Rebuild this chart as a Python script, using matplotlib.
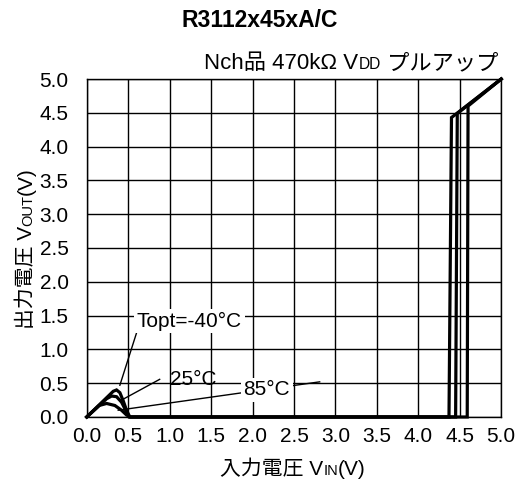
import numpy as np
import matplotlib.pyplot as plt

plt.rcParams['font.family'] = ['Liberation Sans', 'Noto Sans CJK JP', 'DejaVu Sans']

# Данные кривых (Vin, Vout) для трёх температур
vin_m40 = [0.0, 0.32, 0.36, 0.40, 0.44, 0.48, 0.52, 4.37, 4.40, 5.0]
vout_m40 = [0.0, 0.38, 0.40, 0.36, 0.24, 0.10, 0.0, 0.0, 4.43, 5.0]
vin_25 = [0.0, 0.24, 0.30, 0.36, 0.42, 0.47, 0.51, 4.45, 4.47, 5.0]
vout_25 = [0.0, 0.27, 0.31, 0.30, 0.22, 0.10, 0.0, 0.0, 4.49, 5.0]
vin_85 = [0.0, 0.15, 0.24, 0.34, 0.42, 0.48, 0.53, 4.59, 4.60, 5.0]
vout_85 = [0.0, 0.17, 0.20, 0.17, 0.10, 0.03, 0.0, 0.0, 4.60, 5.0]

ticks = np.arange(0, 5.01, 0.5)
tick_labels = [f"{t:.1f}" for t in ticks]

FS = 15

fig = plt.figure(figsize=(5.18, 4.95), dpi=100)
ax = fig.add_axes([0.1674, 0.1576, 0.8002, 0.6828])

for x, y in [(vin_m40, vout_m40), (vin_25, vout_25), (vin_85, vout_85)]:
    ax.plot(x, y, color='black', linewidth=2.3, solid_joinstyle='miter', zorder=3, clip_on=False)

ax.set_xlim(0, 5)
ax.set_ylim(0, 5)
ax.set_xticks(ticks)
ax.set_yticks(ticks)
ax.set_xticklabels(tick_labels)
ax.set_yticklabels(tick_labels)
ax.tick_params(length=0, labelsize=FS)
ax.tick_params(axis='x', pad=7)
ax.tick_params(axis='y', pad=13)
ax.grid(True, color='black', linewidth=1.0)
for s in ax.spines.values():
    s.set_linewidth(1.0)

# подписи температур
box = dict(facecolor='white', edgecolor='none', pad=2)
ax.plot([0.40, 0.60], [0.47, 1.24], color='black', linewidth=1.0, zorder=4)
ax.text(1.24, 1.42, "Topt=-40°C", fontsize=FS, ha='center', va='center', zorder=5, bbox=box)
ax.plot([0.42, 0.88], [0.25, 0.557], color='black', linewidth=1.0, zorder=4)
ax.text(1.29, 0.56, "25°C", fontsize=FS, ha='center', va='center', zorder=5)
ax.plot([0.38, 2.81], [0.10, 0.52], color='black', linewidth=1.0, zorder=4)
ax.text(2.17, 0.40, "85°C", fontsize=FS, ha='center', va='center', zorder=5, bbox=box)

fig.text(0.502, 0.958, "R3112x45xA/C", fontsize=16.5, fontweight='bold', ha='center', va='center')

# подзаголовок с малыми буквами
sb = 1 - 69 / 495
t1 = fig.text(200 / 518, sb, "Nch品 470kΩ V", fontsize=16, ha='left', va='baseline')
t2 = fig.text(0, sb, "DD", fontsize=16 * 0.7, ha='left', va='baseline')
t3 = fig.text(0, sb, " プルアップ", fontsize=16, ha='left', va='baseline')

# подпись оси X
xb = 1 - 475 / 495
x1 = fig.text(232 / 518, xb, "入力電圧 V", fontsize=FS, ha='left', va='baseline')
x2 = fig.text(0, xb, "IN", fontsize=FS * 0.7, ha='left', va='baseline')
x3 = fig.text(0, xb, "(V)", fontsize=FS, ha='left', va='baseline')

# подпись оси Y
yb = 32 / 518
y1 = fig.text(yb, 155 / 495, "出力電圧 V", fontsize=FS, rotation=90, rotation_mode='anchor',
              ha='left', va='baseline')
y2 = fig.text(yb, 0, "OUT", fontsize=FS * 0.7, rotation=90, rotation_mode='anchor', ha='left', va='baseline')
y3 = fig.text(yb, 0, "(V)", fontsize=FS, rotation=90, rotation_mode='anchor', ha='left', va='baseline')

# расстановка кусочков подписей по их реальным размерам
fig.canvas.draw()
r = fig.canvas.get_renderer()
inv = fig.transFigure.inverted()


def chain_x(parts):
    for a, b in zip(parts[:-1], parts[1:]):
        e = a.get_window_extent(r)
        b.set_x(inv.transform((e.x1, 0))[0])


def chain_y(parts):
    for a, b in zip(parts[:-1], parts[1:]):
        e = a.get_window_extent(r)
        b.set_y(inv.transform((0, e.y1))[1])


chain_x([x1, x2, x3])
e1 = x1.get_window_extent(r)
e3 = x3.get_window_extent(r)
shift = (293 - (e1.x0 + e3.x1) / 2) / 518
for t in (x1, x2, x3):
    t.set_x(t.get_position()[0] + shift)

chain_y([y1, y2, y3])
fig.canvas.draw()
e1 = y1.get_window_extent(r)
e3 = y3.get_window_extent(r)
shift = ((495 - 248) - (e1.y0 + e3.y1) / 2) / 495
for t in (y1, y2, y3):
    t.set_y(t.get_position()[1] + shift)

# выравнивание подзаголовка по правому краю
chain_x([t1, t2, t3])
fig.canvas.draw()
e = t3.get_window_extent(r)
dx = (498 - e.x1) / 518
for t in (t1, t2, t3):
    t.set_x(t.get_position()[0] + dx)

fig.savefig("out.png", dpi=100)
